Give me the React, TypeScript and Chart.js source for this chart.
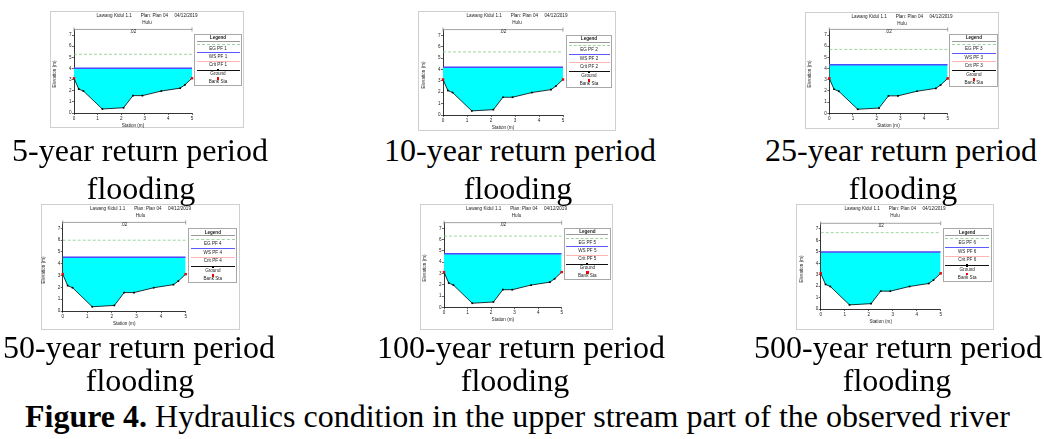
import React, { useEffect, useRef } from 'react';
import { Chart, registerables } from 'chart.js';

Chart.register(...registerables);

// ---------- data ----------
const stations = [0, 0.2, 0.4, 1.2, 2.1, 2.5, 2.9, 3.7, 4.5, 4.7, 5.0];
const groundElev = [3.12, 2.15, 1.97, 0.36, 0.47, 1.56, 1.56, 1.97, 2.23, 2.53, 3.12];
const bankStations = [0, 5];
const bankElev = [3.12, 3.12];
const profileNames = ['PF 1', 'PF 2', 'PF 3', 'PF 4', 'PF 5', 'PF 6'];
const wsElev = [4.01, 4.19, 4.35, 4.55, 4.75, 4.99];
const critElev = [4.01, 4.19, 4.35, 4.55, 4.75, 4.99];
const egElev = [5.27, 5.54, 5.71, 5.99, 6.31, 6.68];
const xTickValues = [0, 1, 2, 3, 4, 5];
const yTickValues = [0, 1, 2, 3, 4, 5, 6, 7];
const roughnessLabel = '.02';
const plotTitle = 'Lawang Kidul 1.1       Plan: Plan 04     04/12/2019';
const plotSubtitle = 'Hulu';
const captionLine1 = [
  '5-year return period',
  '10-year return period',
  '25-year return period',
  '50-year return period',
  '100-year return period',
  '500-year return period',
];
const captionLine2 = 'flooding';
const figureLabel = 'Figure 4.';
const figureText = ' Hydraulics condition in the upper stream part of the observed river';

const X_MIN = 0;
const X_MAX = 5;
const Y_MAX = 7.5;

// ---------- layout (pixels) ----------
const panels = [
  { frame: { x: 50, y: 11, w: 194, h: 117 }, plot: { x0: 74, x5: 192, y0: 113, y7: 35 }, legend: { x: 194, y: 34, w: 48, h: 52 } },
  { frame: { x: 418, y: 11, w: 198, h: 120 }, plot: { x0: 443, x5: 563, y0: 115, y7: 35.3 }, legend: { x: 566, y: 35, w: 46, h: 53 } },
  { frame: { x: 805, y: 12, w: 194, h: 117 }, plot: { x0: 829.3, x5: 947.7, y0: 113.3, y7: 35 }, legend: { x: 949.3, y: 34, w: 49, h: 53 } },
  { frame: { x: 41, y: 204, w: 199, h: 126 }, plot: { x0: 62.7, x5: 185.7, y0: 311, y7: 228.3 }, legend: { x: 188.3, y: 228.3, w: 49, h: 55 } },
  { frame: { x: 420, y: 204, w: 193, h: 126 }, plot: { x0: 444, x5: 561.7, y0: 307.3, y7: 228.3 }, legend: { x: 563.7, y: 227.7, w: 47.3, h: 52.3 } },
  { frame: { x: 796, y: 204, w: 198, h: 126 }, plot: { x0: 820.7, x5: 940.7, y0: 309, y7: 229 }, legend: { x: 942.7, y: 228.3, w: 49, h: 53.3 } },
];

const captionPos = [
  { c1: 140, c2: 141, t1: 134, t2: 172 },
  { c1: 520, c2: 518, t1: 134, t2: 172 },
  { c1: 901, c2: 903, t1: 134, t2: 172 },
  { c1: 139, c2: 140, t1: 331, t2: 364 },
  { c1: 521, c2: 515, t1: 331, t2: 364 },
  { c1: 898, c2: 897, t1: 331, t2: 364 },
];

const SANS = '"Liberation Sans", Arial, sans-serif';
const SERIF = '"Liberation Serif", "Times New Roman", serif';
const SMALL = 4.6;

const bracketPlugin = {
  id: 'nBracket',
  afterDatasetsDraw(chart: any) {
    const { ctx, chartArea, scales } = chart;
    const xs = scales.x;
    const xa = xs.getPixelForValue(X_MIN);
    const xb = xs.getPixelForValue(X_MAX);
    const y = chartArea.top;
    ctx.save();
    ctx.strokeStyle = '#8a8a8a';
    ctx.lineWidth = 0.8;
    ctx.beginPath();
    ctx.moveTo(xa, y);
    ctx.lineTo(xb, y);
    ctx.moveTo(xa, y - 2);
    ctx.lineTo(xa, y + 2);
    ctx.moveTo(xb, y - 2);
    ctx.lineTo(xb, y + 2);
    ctx.stroke();
    ctx.restore();
  },
};

function Label(props: { cx: number; cy: number; text: string; size?: number; bold?: boolean; rotate?: boolean; color?: string }) {
  const { cx, cy, text, size = SMALL, bold, rotate, color = '#222' } = props;
  return (
    <div
      style={{
        position: 'absolute',
        left: cx,
        top: cy,
        transform: `translate(-50%, -50%)${rotate ? ' rotate(-90deg)' : ''}`,
        fontFamily: SANS,
        fontSize: size,
        lineHeight: 1,
        whiteSpace: 'pre',
        fontWeight: bold ? 700 : 400,
        color,
      }}
    >
      {text}
    </div>
  );
}

function LegendBox(props: { idx: number }) {
  const l = panels[props.idx].legend;
  const pf = profileNames[props.idx];
  const f = (fr: number) => fr * l.h;
  const line = (fr: number, color: string, width: number, dashed = false) => (
    <div
      style={{
        position: 'absolute',
        left: 1.5,
        right: 1.5,
        top: f(fr) - width / 2,
        height: 0,
        borderTop: `${width}px ${dashed ? 'dashed' : 'solid'} ${color}`,
      }}
    />
  );
  const square = (fr: number, color: string, s: number) => (
    <div style={{ position: 'absolute', left: l.w / 2 - s / 2 - 1, top: f(fr) - s / 2, width: s, height: s, background: color }} />
  );
  const cx = l.w / 2 - 1;
  return (
    <div
      style={{
        position: 'absolute',
        left: l.x,
        top: l.y,
        width: l.w,
        height: l.h,
        border: '1px solid #a8a8a8',
        boxSizing: 'border-box',
        background: '#fff',
      }}
    >
      <Label cx={cx} cy={f(0.064)} text="Legend" bold />
      {line(0.118, '#9a9a9a', 0.8)}
      {line(0.18, '#9fd69f', 1, true)}
      <Label cx={cx} cy={f(0.265)} text={`EG ${pf}`} />
      {line(0.346, '#5a5aff', 1.4)}
      <Label cx={cx} cy={f(0.425)} text={`WS ${pf}`} />
      {line(0.506, '#ffb4b4', 0.8)}
      <Label cx={cx} cy={f(0.58)} text={`Crit ${pf}`} />
      {line(0.679, '#111', 1)}
      {square(0.679, '#000', 2.2)}
      <Label cx={cx} cy={f(0.758)} text="Ground" />
      {square(0.84, '#ff0000', 2.4)}
      <Label cx={cx} cy={f(0.91)} text="Bank Sta" />
    </div>
  );
}

function Panel(props: { idx: number }) {
  const { idx } = props;
  const ref = useRef<HTMLCanvasElement>(null);
  const p = panels[idx];
  const fr = p.frame;
  const WY = 12;
  const HX = 10;
  const unit = (p.plot.y0 - p.plot.y7) / 7;
  const yTopPx = p.plot.y0 - Y_MAX * unit;

  useEffect(() => {
    if (!ref.current) return;
    const ws = wsElev[idx];
    const eg = egElev[idx];
    const crit = critElev[idx];
    const pad = {
      left: p.plot.x0 - fr.x - WY,
      right: fr.w - (p.plot.x5 - fr.x),
      top: yTopPx - fr.y,
      bottom: fr.h - (p.plot.y0 - fr.y) - HX,
    };
    const tickFont = { size: SMALL, family: SANS };
    const chart = new Chart(ref.current, {
      type: 'scatter',
      data: {
        datasets: [
          {
            label: 'Bank Sta',
            data: bankStations.map((s, i) => ({ x: s, y: bankElev[i] })),
            showLine: false,
            pointStyle: 'rect',
            pointRadius: 1.7,
            pointBackgroundColor: '#ff0000',
            pointBorderWidth: 0,
            clip: false,
          } as any,
          {
            label: 'Ground',
            data: stations.map((s, i) => ({ x: s, y: groundElev[i] })),
            showLine: true,
            borderColor: '#000',
            borderWidth: 0.8,
            pointStyle: 'rect',
            pointRadius: 1.2,
            pointBackgroundColor: '#000',
            pointBorderWidth: 0,
            fill: { value: ws },
            backgroundColor: '#00ffff',
            clip: false,
          } as any,
          {
            label: `WS ${profileNames[idx]}`,
            data: [{ x: X_MIN, y: ws }, { x: X_MAX, y: ws }],
            showLine: true,
            borderColor: '#4b4bff',
            borderWidth: 1.5,
            pointRadius: 0,
          } as any,
          {
            label: `Crit ${profileNames[idx]}`,
            data: [{ x: X_MIN, y: crit }, { x: X_MAX, y: crit }],
            showLine: true,
            borderColor: '#ffaaaa',
            borderWidth: 0.8,
            pointRadius: 0,
          } as any,
          {
            label: `EG ${profileNames[idx]}`,
            data: [{ x: X_MIN, y: eg }, { x: X_MAX, y: eg }],
            showLine: true,
            borderColor: '#86cc86',
            borderWidth: 0.8,
            borderDash: [3, 2],
            pointRadius: 0,
          } as any,
        ],
      },
      options: {
        animation: false,
        responsive: false,
        maintainAspectRatio: false,
        events: [],
        layout: { padding: pad, autoPadding: false } as any,
        plugins: {
          legend: { display: false },
          tooltip: { enabled: false },
          title: { display: false },
          filler: { drawTime: 'beforeDatasetsDraw' } as any,
        },
        scales: {
          x: {
            type: 'linear',
            min: X_MIN,
            max: X_MAX,
            afterBuildTicks: (s: any) => {
              s.ticks = xTickValues.map((v) => ({ value: v }));
            },
            afterFit: (s: any) => {
              s.height = HX;
            },
            ticks: { font: tickFont, color: '#222', padding: 0.5, maxRotation: 0, autoSkip: false },
            grid: { display: true, drawOnChartArea: false, drawTicks: true, tickLength: 2, color: '#000', lineWidth: 0.6 },
            border: { display: true, color: '#000', width: 0.8 },
          },
          y: {
            type: 'linear',
            min: 0,
            max: Y_MAX,
            afterBuildTicks: (s: any) => {
              s.ticks = yTickValues.map((v) => ({ value: v }));
            },
            afterFit: (s: any) => {
              s.width = WY;
            },
            ticks: { font: tickFont, color: '#222', padding: 0.5, autoSkip: false },
            grid: { display: true, drawOnChartArea: false, drawTicks: true, tickLength: 2, color: '#000', lineWidth: 0.6 },
            border: { display: true, color: '#000', width: 0.8 },
          },
        },
      },
      plugins: [bracketPlugin],
    } as any);
    return () => chart.destroy();
  }, []);

  const cxPlot = (p.plot.x0 + p.plot.x5) / 2;
  return (
    <>
      <div
        style={{
          position: 'absolute',
          left: fr.x,
          top: fr.y,
          width: fr.w,
          height: fr.h,
          border: '1px solid #cfcfcf',
          boxSizing: 'border-box',
        }}
      />
      <canvas
        ref={ref}
        width={fr.w}
        height={fr.h}
        style={{ position: 'absolute', left: fr.x, top: fr.y, width: fr.w, height: fr.h }}
      />
      <Label cx={fr.x + fr.w / 2} cy={fr.y + 4.8} text={plotTitle} />
      <Label cx={fr.x + fr.w / 2} cy={fr.y + 11.6} text={plotSubtitle} />
      <Label cx={cxPlot} cy={yTopPx + 2.4} text={roughnessLabel} />
      <Label cx={p.plot.x0 - 19} cy={(p.plot.y0 + p.plot.y7) / 2} text="Elevation (m)" rotate />
      <Label cx={cxPlot} cy={p.plot.y0 + 12.5} text="Station (m)" />
      <LegendBox idx={idx} />
    </>
  );
}

function Caption(props: { cx: number; top: number; text: string }) {
  return (
    <div
      style={{
        position: 'absolute',
        left: props.cx,
        top: props.top,
        transform: 'translateX(-50%)',
        fontFamily: SERIF,
        fontSize: 32,
        lineHeight: '32px',
        whiteSpace: 'nowrap',
        color: '#000',
      }}
    >
      {props.text}
    </div>
  );
}

export default function App() {
  return (
    <div
      style={{
        position: 'absolute',
        left: 0,
        top: 0,
        width: 1044,
        height: 439,
        background: '#fff',
        overflow: 'hidden',
      }}
    >
      {panels.map((_, i) => (
        <Panel key={i} idx={i} />
      ))}
      {captionLine1.map((t, i) => (
        <React.Fragment key={`c${i}`}>
          <Caption cx={captionPos[i].c1} top={captionPos[i].t1} text={t} />
          <Caption cx={captionPos[i].c2} top={captionPos[i].t2} text={captionLine2} />
        </React.Fragment>
      ))}
      <div
        style={{
          position: 'absolute',
          left: 25,
          top: 400,
          fontFamily: SERIF,
          fontSize: 32,
          lineHeight: '32px',
          whiteSpace: 'nowrap',
          color: '#000',
        }}
      >
        <b>{figureLabel}</b>
        {figureText}
      </div>
    </div>
  );
}
